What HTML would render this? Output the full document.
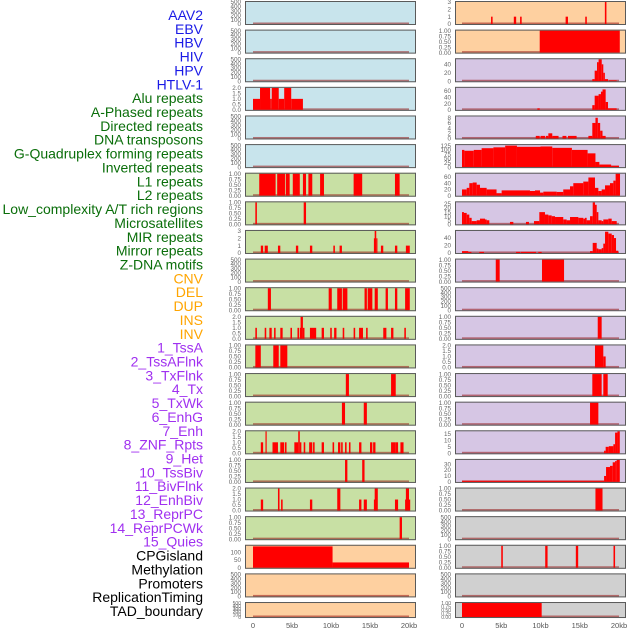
<!DOCTYPE html>
<html><head><meta charset="utf-8"><style>
html,body{margin:0;padding:0;background:#fff;width:630px;height:630px;overflow:hidden}
svg{display:block;font-family:"Liberation Sans",sans-serif}
</style></head><body>
<svg id="chart" width="630" height="630"></svg>
<script>
const trackLabels=["AAV2","EBV","HBV","HIV","HPV","HTLV-1","Alu repeats","A-Phased repeats","Directed repeats","DNA transposons","G-Quadruplex forming repeats","Inverted repeats","L1 repeats","L2 repeats","Low_complexity A/T rich regions","Microsatellites","MIR repeats","Mirror repeats","Z-DNA motifs","CNV","DEL","DUP","INS","INV","1_TssA","2_TssAFlnk","3_TxFlnk","4_Tx","5_TxWk","6_EnhG","7_Enh","8_ZNF_Rpts","9_Het","10_TssBiv","11_BivFlnk","12_EnhBiv","13_ReprPC","14_ReprPCWk","15_Quies","CPGisland","Methylation","Promoters","ReplicationTiming","TAD_boundary"];
const labelColors=["#1a1ae6","#1a1ae6","#1a1ae6","#1a1ae6","#1a1ae6","#1a1ae6","#0a6e0a","#0a6e0a","#0a6e0a","#0a6e0a","#0a6e0a","#0a6e0a","#0a6e0a","#0a6e0a","#0a6e0a","#0a6e0a","#0a6e0a","#0a6e0a","#0a6e0a","#ffa500","#ffa500","#ffa500","#ffa500","#ffa500","#a030f0","#a030f0","#a030f0","#a030f0","#a030f0","#a030f0","#a030f0","#a030f0","#a030f0","#a030f0","#a030f0","#a030f0","#a030f0","#a030f0","#a030f0","#000","#000","#000","#000","#000"];
const xTicks=[0,5,10,15,20];
const xTickLabels=["0","5kb","10kb","15kb","20kb"];
// y-axis maxima and ticks per panel (left column then right column)
const yMaxLeft=[500,500,500,2,500,500,1,1,3,500,1,2,1,1,1,2,1,2,1,140,500,500];
const yMaxRight=[3,1,52,70,8.5,128,70,27,59,1,500,1,2,1,1,17,37,1,500,1,500,1];
const tickSets={500:[0,100,200,300,400,500],1:[0,0.25,0.5,0.75,1],2:[0,0.5,1,1.5,2],3:[0,1,2,3],140:[0,50,100],52:[0,20,40],70:[0,20,40,60],8.5:[0,2,4,6,8],128:[0,25,50,75,100,125],27:[0,5,10,15,20,25],59:[0,20,40],17:[0,5,10,15],37:[0,10,20,30]};
// segments: [startKb, endKb, value]
const L3=[[0,0.9,1],[0.9,2.2,2],[2.2,2.4,1],[2.4,3.3,2],[3.3,4.0,1],[4.0,4.9,2],[4.9,6.4,1]];
const L6=[[0.8,2.9,1],[3.1,4.1,1],[4.2,4.7,1],[5.1,6.0,1],[6.4,6.8,1],[7.1,7.6,1],[8.6,9.1,1],[12.9,14.0,1],[18.2,18.8,1]];
const L7=[[0.3,0.5,1],[6.5,6.8,1]];
const L8=[[1.0,1.3,1],[1.5,1.9,1],[3.2,3.5,1],[5.5,5.8,1],[7.3,7.6,1],[10.3,10.5,1],[11.1,11.4,1],[15.5,15.6,2],[15.6,15.8,3],[15.8,15.9,2],[16.4,16.7,1],[18.2,18.5,1],[19.6,20.1,1]];
const L10=[[1.9,2.3,1],[9.7,10.1,1],[10.8,11.4,1],[11.5,12.1,1],[14.3,14.6,1],[14.7,15.3,1],[15.6,16.0,1],[17.0,17.3,1],[18.2,18.5,1],[19.5,20.1,1]];
const L11=[[0.3,0.5,1],[1.5,1.7,1],[2.1,2.4,1],[2.7,2.9,1],[3.5,3.8,1],[4.8,5.0,1],[5.7,5.9,1],[6.0,6.1,1],[6.1,6.4,2],[6.4,6.6,1],[7.3,8.1,1],[8.8,9.1,1],[9.9,10.1,1],[10.4,10.7,1],[11.5,11.7,1],[12.9,13.1,1],[13.6,14.1,1],[14.5,14.7,1],[16.7,17.1,1],[17.7,18.0,1],[19.4,19.6,1]];
const L12=[[0.3,1.0,1],[2.6,3.3,1],[3.5,4.4,1]];
const L13=[[11.9,12.3,1],[17.7,18.3,1]];
const L14=[[11.4,11.8,1],[14.2,14.6,1]];
const L15=[[1.0,1.3,1],[1.6,1.7,2],[2.5,3.2,1],[3.5,4.0,1],[4.1,4.3,1],[5.3,5.8,1],[5.8,6.0,2],[6.0,6.2,1],[6.5,6.7,1],[7.2,7.6,1],[7.7,7.9,1],[8.8,9.1,1],[10.2,10.4,1],[10.9,11.2,1],[11.3,11.5,1],[11.8,12.0,1],[12.3,12.5,1],[13.6,13.9,1],[15.0,15.3,1],[15.4,15.7,1],[17.7,18.3,1],[18.3,18.6,1],[18.9,19.3,1]];
const L16=[[11.8,12.1,1],[14.0,14.3,1]];
const L17=[[1.0,1.3,1],[3.2,3.4,2],[3.6,3.8,1],[7.3,7.6,1],[10.8,11.2,2],[13.6,13.9,1],[14.2,14.6,1],[15.5,15.6,1],[15.6,16.0,2],[18.2,18.6,1],[19.5,19.6,1],[19.6,20.0,2],[20.0,20.1,1]];
const L18=[[18.8,19.1,1]];
const L19=[[0,10.2,136],[10.2,20.0,34]];
const R0=[[3.7,3.9,1],[6.6,6.9,1],[7.4,7.6,1],[13.2,13.5,1],[15.7,15.9,1],[18.2,18.4,3]];
const R1=[[9.9,20.1,1]];
const R2=[[16.6,16.9,5],[16.9,17.2,25],[17.2,17.4,45],[17.4,17.8,52],[17.8,18.0,40],[18.0,18.2,20],[18.2,18.6,5],[18.7,19.7,2]];
const R3=[[9.6,9.9,5],[16.6,16.9,15],[16.9,17.4,45],[17.4,17.7,50],[17.7,17.9,58],[17.9,18.3,65],[18.3,18.6,25],[18.6,19.7,5]];
const R4=[[9.4,9.9,1],[10.0,10.6,1],[10.7,11.0,1],[11.0,11.5,2],[11.5,12.3,1],[12.8,13.3,1],[13.5,14.6,1],[16.1,16.6,1],[16.6,17.0,6],[17.0,17.3,8],[17.3,17.6,6],[17.6,17.9,3],[17.9,18.3,1]];
const R5=[[0,0.3,100],[0.3,1.5,95],[1.5,2.5,100],[2.5,4,110],[4,5.5,115],[5.5,7,125],[7,10,118],[10,11.5,120],[11.5,14,112],[14,16,100],[16,17,80],[17,17.5,30],[17.5,19,15],[19,20,8]];
const R6=[[0,0.6,20],[0.6,0.93,25],[0.93,1.36,40],[1.36,1.87,42],[1.87,2.29,35],[2.29,3.14,25],[3.14,4.4,20],[4.4,5.05,8],[5.05,8.66,17],[8.66,9.3,15],[9.3,9.94,17],[9.94,10.36,10],[10.36,12.06,13],[12.06,12.9,12],[12.9,13.76,20],[13.76,14.18,30],[14.18,15.45,40],[15.45,16.1,45],[16.1,16.94,58],[16.94,17.37,25],[17.37,17.79,15],[17.79,18.22,20],[18.22,18.85,33],[18.85,19.28,40],[19.28,19.57,48],[19.57,20.13,70]];
const R7=[[0,0.25,15],[0.25,0.6,14],[0.6,0.93,12],[0.93,1.23,8],[1.23,1.87,4],[1.87,2.29,5],[2.29,2.93,7],[2.93,3.14,6],[3.14,3.48,5],[6.11,6.54,3],[8.15,8.53,3],[9.17,9.85,4],[9.85,10.57,15],[10.57,11.0,12],[11.0,11.42,11],[11.42,11.85,10],[11.85,12.9,9],[12.9,13.33,6],[13.33,13.76,5],[13.76,14.82,9],[14.82,15.45,8],[15.45,15.67,7],[15.67,15.88,8],[15.88,16.31,5],[16.31,16.65,10],[16.65,16.94,27],[16.94,17.16,24],[17.16,17.37,15],[17.37,17.79,5],[17.79,18.0,4],[18.0,18.64,6],[18.64,19.07,7],[19.07,19.71,4]];
const R8=[[0,0.8,5],[0.8,1.2,3],[2.2,2.8,3],[6.88,7.4,3],[7.47,9.43,3],[9.72,10.15,3],[16.31,16.65,5],[16.65,17.16,27],[17.16,17.37,12],[17.37,17.79,10],[17.79,18.0,13],[18.0,18.22,25],[18.22,18.64,57],[18.64,19.07,52],[19.07,19.36,48],[19.36,19.62,40],[19.62,19.9,6]];
const R9=[[4.3,4.8,1],[10.19,13.0,1]];
const R11=[[17.29,17.79,1]];
const R12=[[16.94,18.0,2],[18.0,18.3,1]];
const R13=[[16.6,17.79,1],[18.0,18.56,1]];
const R14=[[16.31,17.37,1]];
const R15=[[18.1,18.3,2],[18.3,18.7,5],[18.7,19.28,5.5],[19.28,19.5,7],[19.5,19.8,16],[19.8,20.1,17]];
const R16=[[0,18.1,2],[18.1,18.35,10],[18.35,18.85,25],[18.85,19.2,27],[19.2,19.5,33],[19.5,19.7,35],[19.7,20.1,37]];
const R17=[[17.0,17.9,1]];
const R19=[[5.0,5.2,1],[10.6,10.9,1],[14.5,14.8,1],[19.3,19.5,1]];
const R21=[[0,10.15,1]];
const leftSegs=[[],[],[],L3,[],[],L6,L7,L8,[],L10,L11,L12,L13,L14,L15,L16,L17,L18,L19,[],[]];
const rightSegs=[R0,R1,R2,R3,R4,R5,R6,R7,R8,R9,[],R11,R12,R13,R14,R15,R16,R17,[],R19,[],R21];
const bgLeft=["#c8e4ec","#c8e4ec","#c8e4ec","#c8e4ec","#c8e4ec","#c8e4ec","#c8e0a4","#c8e0a4","#c8e0a4","#c8e0a4","#c8e0a4","#c8e0a4","#c8e0a4","#c8e0a4","#c8e0a4","#c8e0a4","#c8e0a4","#c8e0a4","#c8e0a4","#fed0a0","#fed0a0","#fed0a0"];
const bgRight=["#fed0a0","#fed0a0","#d6c6e4","#d6c6e4","#d6c6e4","#d6c6e4","#d6c6e4","#d6c6e4","#d6c6e4","#d6c6e4","#d6c6e4","#d6c6e4","#d6c6e4","#d6c6e4","#d6c6e4","#d6c6e4","#d6c6e4","#d0d0d0","#d0d0d0","#d0d0d0","#d0d0d0","#d0d0d0"];

const NS="http://www.w3.org/2000/svg";
const svg=document.getElementById('chart');
function mk(tag,attrs,parent){const e=document.createElementNS(NS,tag);for(const k in attrs)e.setAttribute(k,attrs[k]);(parent||svg).appendChild(e);return e;}
function fmt(v,max){if(max===1)return v.toFixed(2);if(max===2)return v.toFixed(1);return String(v);}

trackLabels.forEach((t,i)=>{
  const e=mk('text',{x:203,y:20+13.86*i,'text-anchor':'end','font-size':'14',fill:labelColors[i]});
  e.textContent=t;
  
  
});

function panel(col,i,segs,ymax,bg){
  const px0=col?455:245, pw=171, x0kb=col?462:253, sc=col?7.85:7.8;
  const top=1+28.62*i, h=(i===21)?16:24;
  const g=mk('g',{});
  
  
  mk('rect',{x:px0,y:top,width:pw,height:h,fill:bg},g);
  const xs=kb=>x0kb+sc*kb;
  const ys=v=>top+h-1-(h-2)*v/ymax;
  mk('rect',{x:xs(0),y:top+h-2.5,width:sc*20,height:1.6,fill:'rgba(150,20,20,0.55)'},g);
  segs.forEach(s=>{
    const y=ys(s[2]);
    const r=mk('rect',{x:xs(s[0]),y:y,width:Math.max(1.2,xs(s[1])-xs(s[0])),height:top+h-1-y,fill:'#ff0000'},g);
    
    
  });
  mk('rect',{x:px0+0.5,y:top+0.5,width:pw-1,height:h-1,fill:'none',stroke:'#5a5a5a','stroke-width':1},g);
  const ticks=tickSets[ymax]||[0,ymax];
  ticks.forEach(tv=>{
    const e=mk('text',{x:px0-4,y:ys(tv)+2.2,'text-anchor':'end','font-size':(i===21?'5':'6.3'),fill:'#666'},g);
    e.textContent=fmt(tv,ymax);
  });
}
for(let i=0;i<22;i++){panel(0,i,leftSegs[i],yMaxLeft[i],bgLeft[i]);panel(1,i,rightSegs[i],yMaxRight[i],bgRight[i]);}

[0,1].forEach(col=>{
  const x0kb=col?462:253, sc=col?7.85:7.8;
  xTicks.forEach((v,j)=>{
    const e=mk('text',{x:x0kb+sc*v,y:628,'text-anchor':'middle','font-size':'7.5',fill:'#555'});
    e.textContent=xTickLabels[j];
    
    
  });
});
</script>
</body></html>
